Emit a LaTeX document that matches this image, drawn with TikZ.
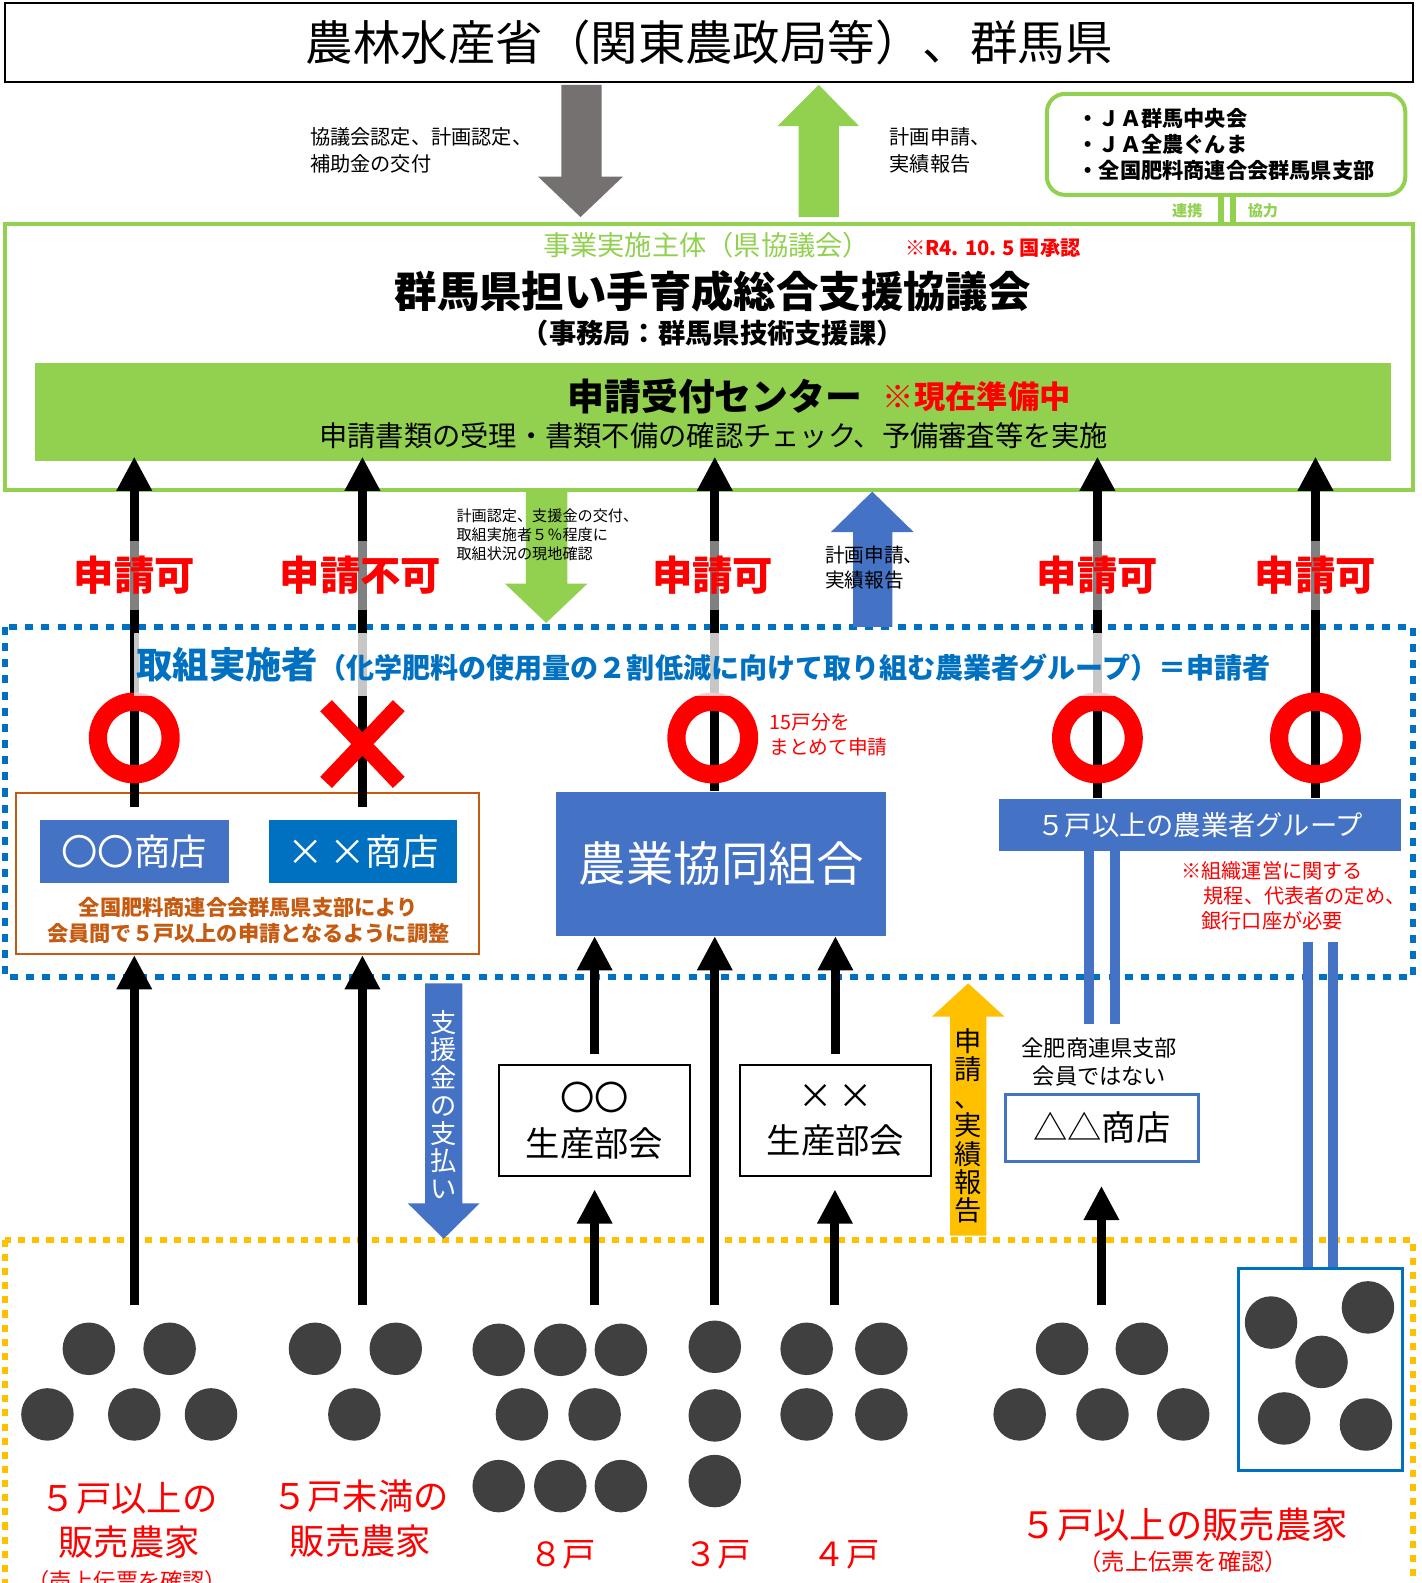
\documentclass[tikz,border=0pt]{standalone}
\usepackage{fontspec}
\setmainfont{Noto Sans CJK JP}
\usetikzlibrary{arrows.meta,positioning}

\definecolor{gnA}{HTML}{92D050}
\definecolor{blA}{HTML}{4472C4}
\definecolor{blB}{HTML}{0070C0}
\definecolor{orA}{HTML}{C55A11}
\definecolor{ylA}{HTML}{FFC000}
\definecolor{gyA}{HTML}{767171}
\definecolor{dotA}{HTML}{404040}
\newcommand{\fsz}[2]{\fontsize{#1}{#2}\selectfont}

\tikzset{
  arr/.style={line width=9pt,-{Triangle[width=33pt,length=34pt]}},
  uparr/.style={arr,shorten >=-5pt},
  okring/.style={circle,draw=red,line width=18pt,minimum size=72pt,inner sep=0pt},
  oklab/.style={text=red,font=\bfseries\fsz{40}{44},fill=white,fill opacity=0.5,text opacity=1,minimum height=68pt,inner sep=1pt},
  farmer/.style={circle,fill=dotA,minimum size=52pt,inner sep=0pt},
  shopbox/.style={fill=blA,text=white,inner sep=0pt},
  txt/.style={inner sep=0pt,align=left},
}

\begin{document}
\begin{tikzpicture}[x=1pt,y=-1pt]
\useasboundingbox (0,0) rectangle (1408,1568);

% 国・県
\node[draw,line width=2pt,minimum width=1395pt,minimum height=78pt,inner sep=0pt,font=\fsz{47}{50}] (maff) at (702.5,42) {農林水産省（関東農政局等）、群馬県};

% 県協議会
\node[draw=gnA,line width=4pt,minimum width=1395pt,minimum height=263pt] (council) at (702.5,353.5) {};
\node[fill=gnA,minimum width=1343pt,minimum height=97pt] (accept) at (706.5,408.5) {};

\fill[gyA] (556,84) -- (596,84) -- (596,175) -- (617,175) -- (575,215) -- (533,175) -- (556,175) -- cycle;
\fill[gnA] (791,215) -- (831,215) -- (831,125) -- (851,125) -- (811,84) -- (770,125) -- (791,125) -- cycle;
\node[txt,font=\fsz{20}{26},anchor=west] (grantL) at (307,149) {協議会認定、計画認定、\\補助金の交付};
\node[txt,font=\fsz{20}{26},anchor=west] (applyL) at (881,149) {計画申請、\\実績報告};

\node[draw=gnA,line width=4pt,rounded corners=18pt,minimum width=355pt,minimum height=100pt,align=left,font=\bfseries\fsz{21}{25.5}] (jabox) at (1214.5,143) {・ＪＡ群馬中央会\\・ＪＡ全農ぐんま\\・全国肥料商連合会群馬県支部};
\draw[gnA,line width=6pt] (jabox.south -| 1209,0) -- (council.north -| 1209,0);
\draw[gnA,line width=6pt] (jabox.south -| 1221,0) -- (council.north -| 1221,0);
\node[font=\bfseries\fsz{15}{18},text=gnA] (renkei) at (1176,209) {連携};
\node[font=\bfseries\fsz{15}{18},text=gnA] (kyoryoku) at (1251,209) {協力};

\node[font=\fsz{27}{30},text=gnA] (mainbody) at (700,243) {事業実施主体（県協議会）};
\node[font=\bfseries\fsz{20}{22},text=red,anchor=west] (approved) at (893,246) {※R4. 10. 5 国承認};
\node[font=\bfseries\fsz{42}{46}] (cname) at (706,289) {群馬県担い手育成総合支援協議会};
\node[font=\bfseries\fsz{27}{30}] (office) at (706,330) {（事務局：群馬県技術支援課）};
\node[font=\bfseries\fsz{36.5}{40},anchor=west,inner sep=0pt] (center) at (562,393) {申請受付センター};
\node[font=\bfseries\fsz{31}{34},text=red,right=20pt of center,inner sep=0pt] (prep) {※現在準備中};
\node[font=\fsz{28}{32}] (tasks) at (707,432) {申請書類の受理・書類不備の確認チェック、予備審査等を実施};

% 取組実施者・販売農家の枠
\draw[blB,line width=6pt,dash pattern=on 8pt off 8pt] (5,621) rectangle (1400,968);
\draw[ylA,line width=6pt,dash pattern=on 7pt off 7pt] (5,1228) rectangle (1400,1600);

\fill[gnA] (521,487) -- (562,487) -- (562,578) -- (582,578) -- (541,617) -- (500,578) -- (521,578) -- cycle;
\node[txt,font=\fsz{15}{19},anchor=west] (checkL) at (452,530) {計画認定、支援金の交付、\\取組実施者５％程度に\\取組状況の現地確認};
\fill[blA] (845,621) -- (884,621) -- (884,527) -- (905,527) -- (864,487) -- (823,527) -- (845,527) -- cycle;
\node[txt,font=\fsz{19.5}{25},anchor=west] (applyR) at (817,562) {計画申請、\\実績報告};

% 申請者
\node[draw=orA,line width=2pt,minimum width=458pt,minimum height=160pt] (adjust) at (245,865) {};
\node[shopbox,minimum width=187pt,minimum height=63pt,font=\fsz{36}{40}] (shopA) at (133,843.5) {〇〇商店};
\node[shopbox,fill=blB,minimum width=187pt,minimum height=63pt,font=\fsz{36}{40}] (shopB) at (359.5,843.5) {×\,×商店};
\node[font=\bfseries\fsz{21}{26},text=orA,align=center] (adjustL) at (246,912) {全国肥料商連合会群馬県支部により\\会員間で５戸以上の申請となるように調整};
\node[shopbox,minimum width=327pt,minimum height=143pt,font=\fsz{47}{50}] (coop) at (714.5,855.5) {農業協同組合};
\node[shopbox,minimum width=398pt,minimum height=52pt,font=\fsz{27}{30}] (grp) at (1189,817) {５戸以上の農業者グループ};

\coordinate (colA) at (133,0);
\coordinate (colB) at (359,0);
\coordinate (colC) at (708,0);
\coordinate (colD) at (1087,0);
\coordinate (colE) at (1303,0);

\draw[uparr,shorten <=12pt] (colA |- shopA.north) -- (colA |- accept.south);
\draw[uparr,shorten <=12pt] (colB |- shopB.north) -- (colB |- accept.south);
\draw[uparr] (colC |- coop.north) -- (colC |- accept.south);
\draw[uparr] (colD |- grp.north) -- (colD |- accept.south);
\draw[uparr] (colE |- grp.north) -- (colE |- accept.south);

\node[okring] (okA) at (colA |- 0,731) {};
\node[okring] (okC) at (706,731) {};
\node[okring] (okD) at (colD |- 0,731) {};
\node[okring] (okE) at (colE |- 0,731) {};
\coordinate (ngB) at (colB |- 0,737);
\draw[red,line width=16pt] (ngB) +(-36,-38) -- +(36,38) (ngB) +(36,-38) -- +(-36,38);

\node[oklab] (canA) at (colA |- 0,570) {申請可};
\node[oklab] (cannotB) at (357,570) {申請不可};
\node[oklab] (canC) at (706,570) {申請可};
\node[oklab] (canD) at (colD |- 0,570) {申請可};
\node[oklab] (canE) at (colE |- 0,570) {申請可};

\node[fill=white,fill opacity=0.78,text opacity=1,minimum height=62pt,inner sep=2pt,anchor=west,text=blB,font=\bfseries] (doers) at (133,658) {{\fsz{36}{40}取組実施者}{\fsz{27.8}{30}（化学肥料の使用量の２割低減に向けて取り組む農業者グループ）＝申請者}};

\node[txt,font=\fsz{19.5}{25},text=red,anchor=west] (bundleL) at (762,728) {15戸分を\\まとめて申請};
\node[txt,font=\fsz{20}{25},text=red,anchor=north west] (ruleL) at (1170,853) {※組織運営に関する\\\hspace*{1.1em}規程、代表者の定め、\\\hspace*{1em}銀行口座が必要};

% 生産部会・商店
\node[draw,line width=2pt,minimum width=189pt,minimum height=110pt,align=center,font=\fsz{34}{45}] (bukaiA) at (589,1110) {〇〇\\生産部会};
\node[draw,line width=2pt,minimum width=189pt,minimum height=110pt,align=center,font=\fsz{34}{45}] (bukaiB) at (827.5,1110) {×\,×\\生産部会};
\node[draw=blA,line width=3pt,minimum width=191pt,minimum height=66pt,font=\fsz{34}{40}] (shopC) at (1091.5,1117) {△△商店};
\node[font=\fsz{22}{28},align=center] (notmember) at (1089,1052) {全肥商連県支部\\会員ではない};

\fill[blA] (421,974) -- (458,974) -- (458,1192) -- (475,1192) -- (439.5,1227) -- (404,1192) -- (421,1192) -- cycle;
\node[text=white,font=\fsz{26}{27.5},align=center] (payL) at (439.5,1094) {支\\援\\金\\の\\支\\払\\い};
\fill[ylA] (941,1224) -- (977,1224) -- (977,1007) -- (995,1007) -- (959,974) -- (923,1007) -- (941,1007) -- cycle;
\node[font=\fsz{27}{28},align=center] (reportL) at (959,1115) {申\\請\\、\\実\\績\\報\\告};

% 販売農家
\node[draw=blB,line width=3pt,minimum width=162pt,minimum height=201pt] (dotbox) at (1308,1356.5) {};
\draw[blA,line width=10pt] (grp.south -| 1079,0) -- (1079,1014);
\draw[blA,line width=10pt] (grp.south -| 1104,0) -- (1104,1014);
\draw[blA,line width=10pt] (1296,933) -- (dotbox.north -| 1296,0);
\draw[blA,line width=10pt] (1320,933) -- (dotbox.north -| 1320,0);

\foreach \x/\y [count=\i] in {88/1336,168/1336,47/1401,133/1401,209/1401,
  312/1336,392/1336,351/1401,
  494/1337,555/1337,615/1337,517/1401,589/1401,494/1472,555/1472,615/1472,
  708/1334,708/1402,708/1467,
  799/1336,873/1336,799/1401,873/1401,
  1052/1336,1131/1336,1010/1401,1092/1401,1172/1401,
  1259/1310,1355/1295,1309/1349,1272/1405,1353/1411}
  \node[farmer] (fm\i) at (\x,\y) {};

\coordinate (gA) at (133,1293);
\coordinate (gB) at (359,1293);
\coordinate (gC) at (589,1293);
\coordinate (gD) at (708,1293);
\coordinate (gE) at (827,1293);
\coordinate (gF) at (1091,1293);
\draw[arr] (gA) -- (gA |- adjust.south);
\draw[arr] (gB) -- (gB |- adjust.south);
\draw[arr,shorten >=12pt] (gC) -- (gC |- bukaiA.south);
\draw[arr] (gD) -- (gD |- coop.south);
\draw[arr,shorten >=12pt] (gE) -- (gE |- bukaiB.south);
\draw[arr,shorten >=23pt] (gF) -- (gF |- shopC.south);
\draw[arr,shorten <=10pt] (bukaiA.north) -- (bukaiA.north |- coop.south);
\draw[arr,shorten <=10pt] (bukaiB.north) -- (bukaiB.north |- coop.south);

\node[font=\fsz{35}{43},text=red,align=center] (lblA) at (128,1506) {５戸以上の\\販売農家};
\node[font=\fsz{22}{26},text=red] (lblAnote) at (126,1566) {（売上伝票を確認）};
\node[font=\fsz{35}{45},text=red,align=center] (lblB) at (357,1504) {５戸未満の\\販売農家};
\node[font=\fsz{33}{36},text=red] (lblC) at (557,1540) {８戸};
\node[font=\fsz{33}{36},text=red] (lblD) at (711,1540) {３戸};
\node[font=\fsz{33}{36},text=red] (lblE) at (838,1540) {４戸};
\node[font=\fsz{36}{40},text=red] (lblF) at (1173,1510) {５戸以上の販売農家};
\node[font=\fsz{23}{26},text=red] (lblFnote) at (1172,1547) {（売上伝票を確認）};
\end{tikzpicture}
\end{document}
